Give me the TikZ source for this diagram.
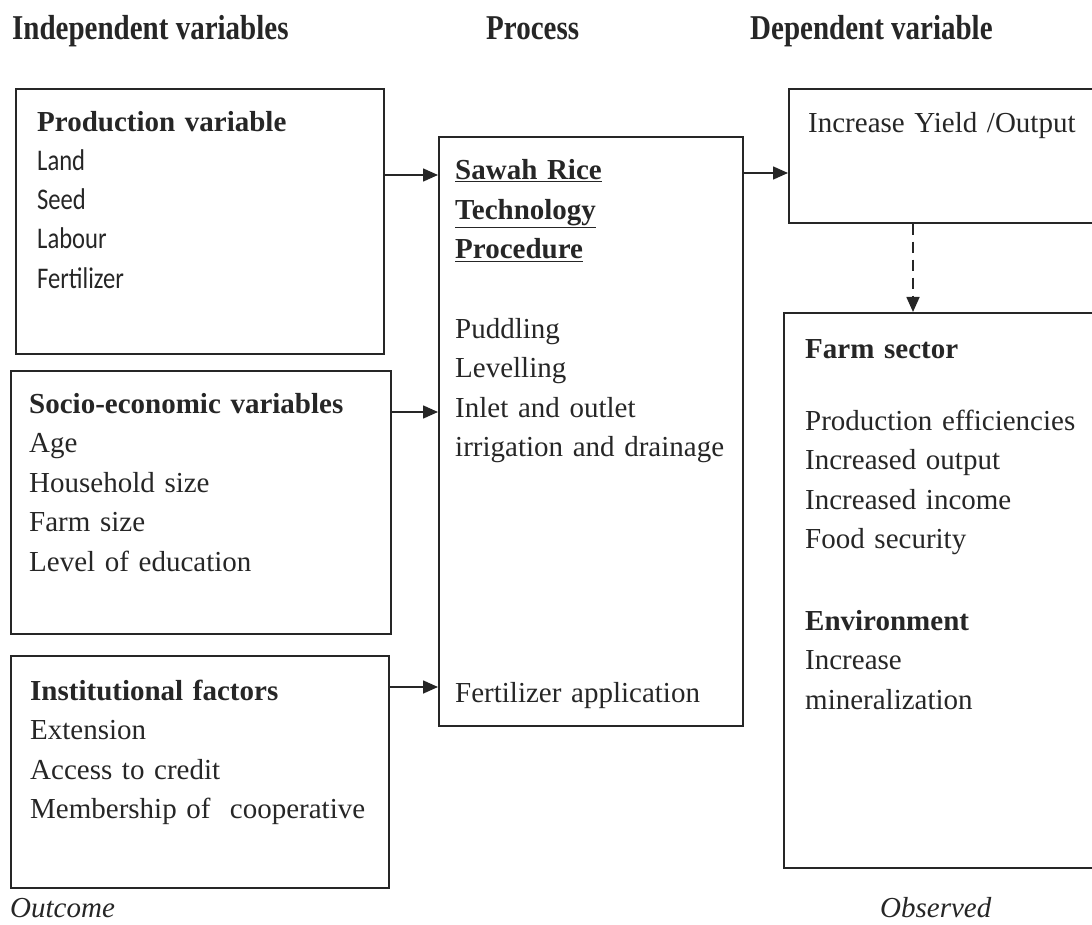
\documentclass[tikz,border=0pt]{standalone}
\usepackage{fontspec}
\setmainfont{Liberation Serif}
\newfontfamily\calfont{Carlito}[FakeStretch=0.82]
\usetikzlibrary{arrows.meta, positioning}
\definecolor{InkGray}{HTML}{262626}

\begin{document}
\begin{tikzpicture}[
    x=1pt, y=-1pt,
    every node/.style={font=\fontsize{29}{39.5}\selectfont, text=InkGray},
    box/.style={
      draw=InkGray, line width=1.6pt, anchor=north west, inner sep=0pt
    },
    txt/.style={anchor=base west, inner sep=0pt, text width=400pt, align=left},
    head/.style={anchor=base west, inner sep=0pt, font=\fontsize{29}{35}\selectfont\bfseries},
    note/.style={anchor=base west, inner sep=0pt, font=\fontsize{29}{35}\selectfont\itshape},
    arr/.style={-{Triangle[length=15pt,width=13pt]}, draw=InkGray, line width=1.6pt}
  ]
    \useasboundingbox (0,0) rectangle (1092,925);

    % column headings
    \node[head] (hIn)  at (12,40)  {\scalebox{1}[1.2]{Independent variables}};
    \node[head] (hPro) at (486,40) {\scalebox{1}[1.2]{Process}};
    \node[head] (hDep) at (750,40) {\scalebox{1}[1.2]{Dependent variable}};

    % boxes
    \node[box, minimum width=368pt, minimum height=265pt] (A) at (15,88)  {};
    \node[box, minimum width=380pt, minimum height=263pt] (B) at (10,370) {};
    \node[box, minimum width=378pt, minimum height=232pt] (C) at (10,655) {};
    \node[box, minimum width=304pt, minimum height=589pt] (P) at (438,136) {};
    \node[box, minimum width=330pt, minimum height=134pt] (Y) at (788,88)  {};
    \node[box, minimum width=335pt, minimum height=555pt] (F) at (783,312) {};

    % box texts
    \node[txt] (tA) at (37,132) {\textbf{Production variable}\\
      {\calfont\fontsize{30}{39}\selectfont Land\\ Seed\\ Labour\\ Fertilizer}};
    \node[txt] (tB) at (29,413) {\textbf{Socio-economic variables}\\ Age\\ Household size\\ Farm size\\ Level of education};
    \node[txt] (tC) at (30,700) {\textbf{Institutional factors}\\ Extension\\ Access to credit\\ Membership of~ cooperative};
    \node[txt] (tP1) at (455,180) {\bfseries\underline{Sawah Rice}\\ \underline{Technology}\\ \underline{Procedure}};
    \node[txt] (tP2) at (455,338) {Puddling\\ Levelling\\ Inlet and outlet\\ irrigation and drainage};
    \node[txt] (tP3) at (455,702) {Fertilizer application};
    \node[txt] (tY)  at (808,133) {Increase Yield /Output};
    \node[txt] (tF1) at (805,358) {\textbf{Farm sector}};
    \node[txt] (tF2) at (805,430) {Production efficiencies\\ Increased output\\ Increased income\\ Food security};
    \node[txt] (tF3) at (805,630) {\textbf{Environment}\\ Increase\\ mineralization};

    % footers
    \node[note] (nOut) at (10,917)  {Outcome};
    \node[note] (nObs) at (880,917) {Observed};

    % connectors
    \coordinate (rowA) at (0,175);
    \coordinate (rowB) at (0,412);
    \coordinate (rowC) at (0,687);
    \coordinate (rowY) at (0,173);
    \coordinate (colD) at (913,0);
    \draw[arr] (A.east |- rowA) -- (P.west |- rowA);
    \draw[arr] (B.east |- rowB) -- (P.west |- rowB);
    \draw[arr] (C.east |- rowC) -- (P.west |- rowC);
    \draw[arr] (P.east |- rowY) -- (Y.west |- rowY);
    \draw[arr, dash pattern=on 11pt off 7pt] (Y.south -| colD) -- (F.north -| colD);
  \end{tikzpicture}
\end{document}
